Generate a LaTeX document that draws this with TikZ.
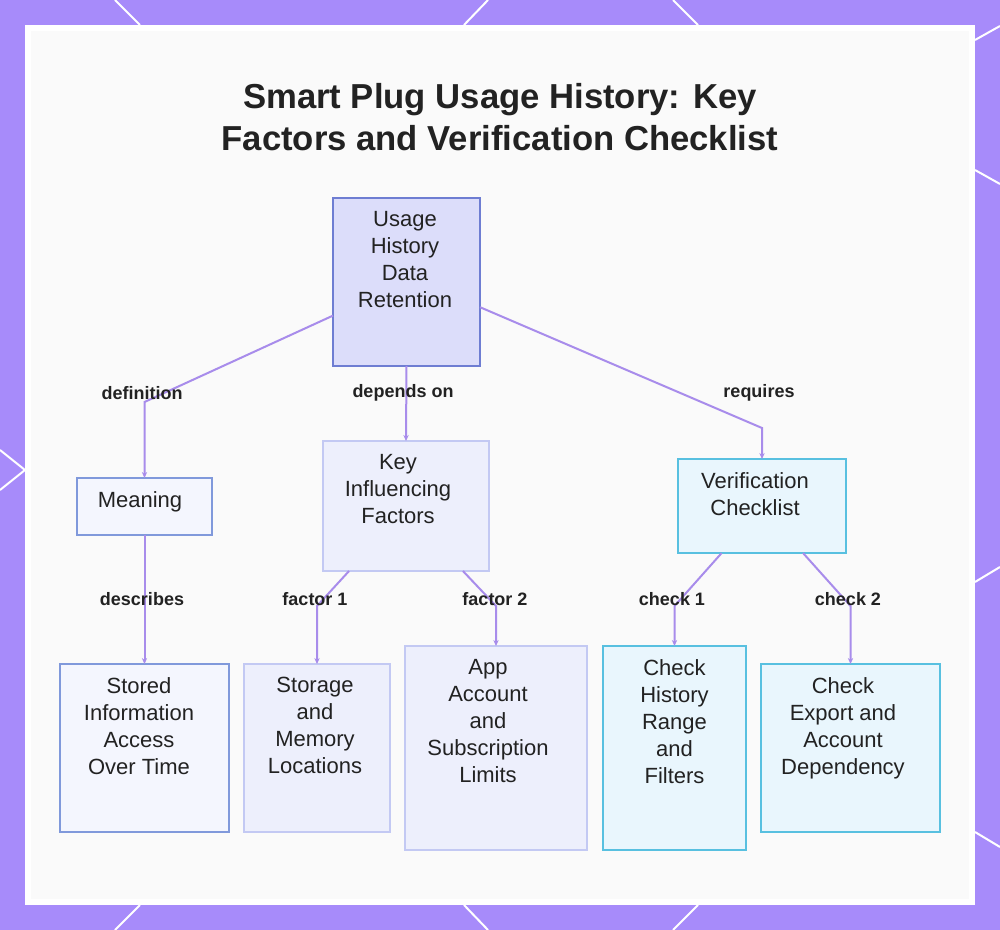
\documentclass[tikz,border=0pt]{standalone}
\usepackage{fontspec}
\setmainfont{Liberation Sans}
\usetikzlibrary{arrows.meta,calc,positioning}

\definecolor{frame}{RGB}{167,139,250}
\definecolor{link}{RGB}{168,140,235}
\definecolor{ink}{RGB}{34,34,34}
\definecolor{rootfill}{RGB}{220,221,250}
\definecolor{rootline}{RGB}{110,125,210}
\definecolor{bluefill}{RGB}{244,246,254}
\definecolor{blueline}{RGB}{128,153,219}
\definecolor{lilacfill}{RGB}{237,239,252}
\definecolor{lilacline}{RGB}{195,201,243}
\definecolor{cyanfill}{RGB}{233,246,253}
\definecolor{cyanline}{RGB}{88,192,224}

\newlength{\px}\setlength{\px}{0.75pt}
% [shift left] {width} {height} {text}, all in px
\newcommand{\boxtxt}[4][0]{\parbox[t][#3\px][t]{#2\px}{%
  \parbox[t]{\dimexpr#2\px-#1\px-#1\px\relax}{\centering
  \fontsize{16.5}{20.25}\selectfont\vspace*{10pt}#4}}}

\tikzset{>={Stealth[length=4.5pt,width=4pt]},
  every box/.style={draw, line width=1.5pt, anchor=north west,
    inner sep=0pt, outer sep=0pt, text=ink},
  rootbox/.style={every box, fill=rootfill, draw=rootline},
  bluebox/.style={every box, fill=bluefill, draw=blueline},
  lilacbox/.style={every box, fill=lilacfill, draw=lilacline},
  cyanbox/.style={every box, fill=cyanfill, draw=cyanline},
  wire/.style={->, draw=link, line width=1.5pt},
  edgelabel/.style={text=ink, font=\fontsize{13.5}{16}\selectfont\bfseries,
    inner sep=1pt}}

\begin{document}
\begin{tikzpicture}[x=0.75pt, y=-0.75pt]
  \useasboundingbox (0,0) rectangle (1000,930);
  % frame and panel
  \fill[frame] (0,0) rectangle (1000,930);
  \begin{scope}[white, line width=1.5pt]
    \draw (115,0) -- (140,25);  \draw (488,0) -- (464,25);  \draw (673,0) -- (698,25);
    \draw (140,905) -- (115,930); \draw (464,905) -- (488,930); \draw (698,905) -- (673,930);
    \draw (0,450) -- (25,470) -- (0,490);
    \draw (1000,26) -- (975,40); \draw (975,170) -- (1000,184);
    \draw (975,582) -- (1000,567); \draw (975,832) -- (1000,847);
  \end{scope}
  \fill[white] (25,25) rectangle (975,905);
  \fill[black!2] (31,31) rectangle (969,899);

  \node[text=ink, align=center, font=\fontsize{26}{31}\selectfont\bfseries]
    (title) at (500,117) {Smart Plug Usage History: Key\\Factors and Verification Checklist};

  % boxes
  \node[rootbox] (root) at (333,198) {\boxtxt[1.5]{147}{168}{Usage\\History\\Data\\Retention}};
  \node[bluebox] (meaning) at (77,478) {\boxtxt[4.5]{135}{57}{Meaning}};
  \node[lilacbox] (key) at (323,441) {\boxtxt[8]{166}{130}{Key\\Influencing\\Factors}};
  \node[cyanbox] (verif) at (678,459) {\boxtxt[7]{168}{94}{Verification\\Checklist}};
  \node[bluebox] (stored) at (60,664) {\boxtxt[5.5]{169}{168}{Stored\\Information\\Access\\Over Time}};
  \node[lilacbox] (storage) at (244,664) {\boxtxt[2]{146}{168}{Storage\\and\\Memory\\Locations}};
  \node[lilacbox] (app) at (405,646) {\boxtxt[8]{182}{204}{App\\Account\\and\\Subscription\\Limits}};
  \node[cyanbox] (chkhist) at (603,646) {\boxtxt{143}{204}{Check\\History\\Range\\and\\Filters}};
  \node[cyanbox] (chkexp) at (761,664) {\boxtxt[7.5]{179}{168}{Check\\Export and\\Account\\Dependency}};

  % connectors
  \draw[wire] ($(root.south west)!.3!(root.north west)$) -- (meaning.north |- 0,402) -- (meaning.north);
  \draw[wire] (root.south) -- (key.north);
  \draw[wire] ($(root.south east)!.35!(root.north east)$) -- (verif.north |- 0,428) -- (verif.north);
  \draw[wire] (meaning.south) -- (stored.north);
  \draw[wire] ($(key.south west)!.157!(key.south east)$) -- (storage.north |- 0,606) -- (storage.north);
  \draw[wire] ($(key.south west)!.843!(key.south east)$) -- (app.north |- 0,606) -- (app.north);
  \draw[wire] ($(verif.south west)!.26!(verif.south east)$) -- (chkhist.north |- 0,606) -- (chkhist.north);
  \draw[wire] ($(verif.south west)!.744!(verif.south east)$) -- (chkexp.north |- 0,606) -- (chkexp.north);

  % connector labels
  \node[edgelabel] (l-def) at (142,393) {definition};
  \node[edgelabel] (l-dep) at (403,393) {depends on};
  \node[edgelabel] (l-req) at (759,393) {requires};
  \node[edgelabel] (l-des) at (142,599) {describes};
  \node[edgelabel] (l-f1) at (315,599) {factor 1};
  \node[edgelabel] (l-f2) at (495,599) {factor 2};
  \node[edgelabel] (l-c1) at (672,599) {check 1};
  \node[edgelabel] (l-c2) at (848,599) {check 2};
\end{tikzpicture}
\end{document}
